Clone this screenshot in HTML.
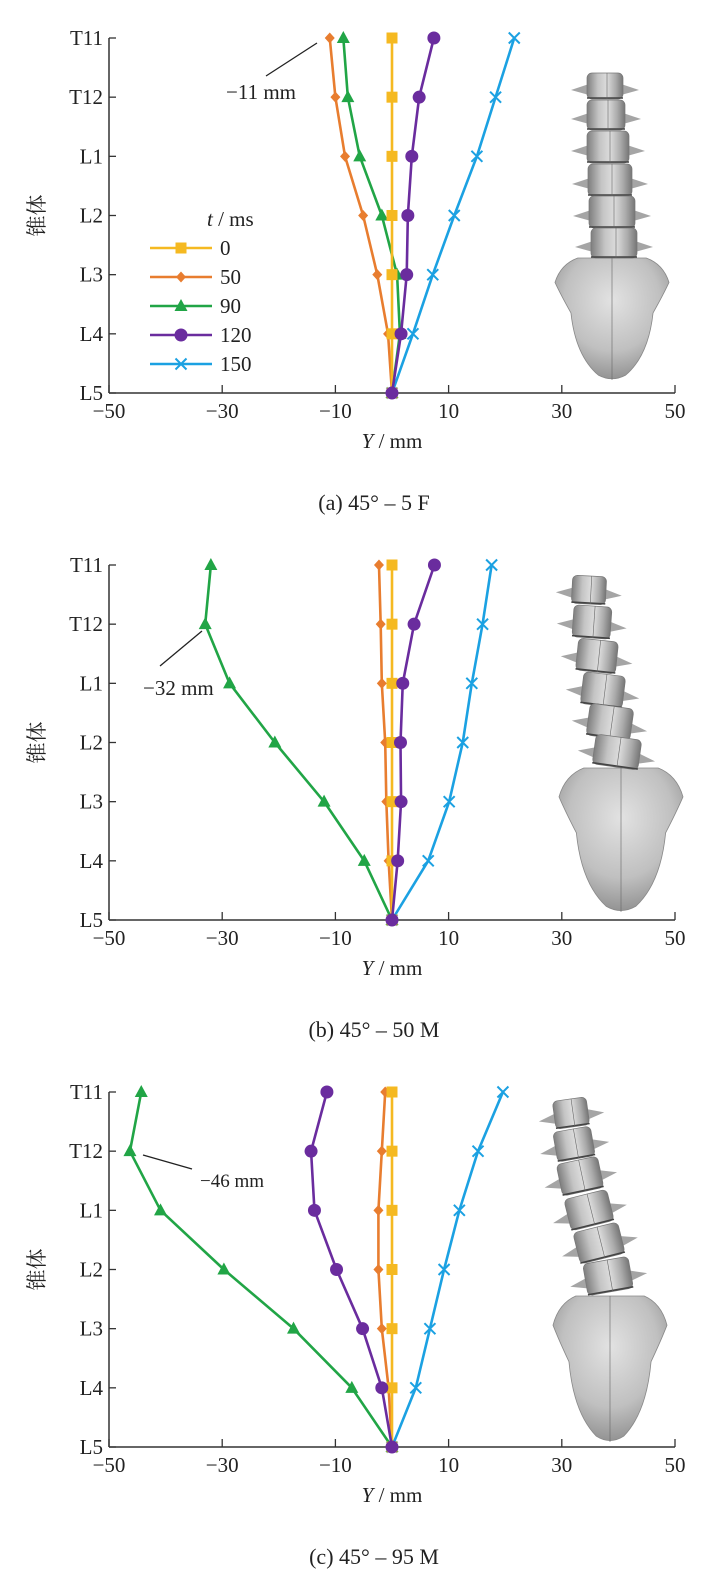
<!DOCTYPE html>
<html><head><meta charset="utf-8"><style>
html,body{margin:0;padding:0;background:#fff;}
svg{display:block;}
text{font-family:"Liberation Serif","Noto Serif CJK SC",serif;fill:#222;}
</style></head><body>
<svg id="s" width="722" height="1580" xmlns="http://www.w3.org/2000/svg">
<defs>
<linearGradient id="bone" x1="0" x2="1" y1="0" y2="0">
<stop offset="0" stop-color="#7e7e7e"/><stop offset="0.3" stop-color="#c4c4c4"/><stop offset="0.55" stop-color="#dcdcdc"/><stop offset="0.8" stop-color="#aaaaaa"/><stop offset="1" stop-color="#767676"/>
</linearGradient>
<radialGradient id="sac" cx="0.5" cy="0.35" r="0.7">
<stop offset="0" stop-color="#e2e2e2"/><stop offset="0.6" stop-color="#c0c0c0"/><stop offset="1" stop-color="#8a8a8a"/>
</radialGradient>
</defs>
</svg>
<script>
const NS="http://www.w3.org/2000/svg";const S=document.getElementById('s');
function el(t,a,txt){const e=document.createElementNS(NS,t);for(const k in a)e.setAttribute(k,a[k]);if(txt!==undefined)e.textContent=txt;S.appendChild(e);return e;}
const X0=392,SC=5.66,AX=109,AXR=675;
const C={y:'#F5B921',o:'#E87D2F',g:'#21A546',p:'#6A2C9E',b:'#1BA1E2'};
const labs=['T11','T12','L1','L2','L3','L4','L5'];
function marker(type,x,y,c){
 if(type==='s')el('rect',{x:x-5.5,y:y-5.5,width:11,height:11,fill:c});
 else if(type==='d')el('polygon',{points:`${x},${y-5.5} ${x+5},${y} ${x},${y+5.5} ${x-5},${y}`,fill:c});
 else if(type==='t')el('polygon',{points:`${x},${y-7} ${x+6.5},${y+5} ${x-6.5},${y+5}`,fill:c});
 else if(type==='c')el('circle',{cx:x,cy:y,r:6.5,fill:c});
 else if(type==='x'){el('path',{d:`M${x-5.5},${y-5.5}L${x+5.5},${y+5.5}M${x+5.5},${y-5.5}L${x-5.5},${y+5.5}`,stroke:c,'stroke-width':2,fill:'none'});}
}
function spine(pts,sac){
 const s=sac;
 el('path',{d:`M${s.x-s.w*0.3},${s.y} L${s.x+s.w*0.3},${s.y} Q${s.x+s.w*0.45},${s.y+s.h*0.05} ${s.x+s.w*0.5},${s.y+s.h*0.2} Q${s.x+s.w*0.45},${s.y+s.h*0.3} ${s.x+s.w*0.36},${s.y+s.h*0.45} Q${s.x+s.w*0.32},${s.y+s.h*0.8} ${s.x+s.w*0.12},${s.y+s.h*0.96} Q${s.x},${s.y+s.h*1.02} ${s.x-s.w*0.12},${s.y+s.h*0.96} Q${s.x-s.w*0.32},${s.y+s.h*0.8} ${s.x-s.w*0.36},${s.y+s.h*0.45} Q${s.x-s.w*0.45},${s.y+s.h*0.3} ${s.x-s.w*0.5},${s.y+s.h*0.2} Q${s.x-s.w*0.45},${s.y+s.h*0.05} ${s.x-s.w*0.3},${s.y} Z`,fill:'url(#sac)',stroke:'#888','stroke-width':0.8});
 el('line',{x1:s.x,y1:s.y,x2:s.x,y2:s.y+s.h,stroke:'#666','stroke-width':0.6});
 for(const [cx,cy,w,h,a] of pts){
  const g=document.createElementNS(NS,'g');g.setAttribute('transform',`translate(${cx},${cy}) rotate(${a})`);S.appendChild(g);
  const add=(t,at)=>{const e=document.createElementNS(NS,t);for(const k in at)e.setAttribute(k,at[k]);g.appendChild(e);};
  add('polygon',{points:`${-w/2-16},${4} ${-w/2+2},${-2} ${-w/2+2},${9}`,fill:'#a5a5a5'});
  add('polygon',{points:`${w/2+16},${4} ${w/2-2},${-2} ${w/2-2},${9}`,fill:'#a5a5a5'});
  add('rect',{x:-w/2,y:-h/2,width:w,height:h,rx:5,fill:'url(#bone)',stroke:'#777','stroke-width':0.7});
  add('line',{x1:-w/2,y1:h/2-1,x2:w/2,y2:h/2-1,stroke:'#444','stroke-width':1.6});
  add('line',{x1:2,y1:-h/2,x2:2,y2:h/2,stroke:'#666','stroke-width':0.6});
 }
}
function panel(oy,data,cap,ann,sp){
 const yT=oy, dy=(355)/6;
 const Y=i=>yT+i*dy; const yB=Y(6);
 el('line',{x1:AX,y1:yT,x2:AX,y2:yB,stroke:'#333','stroke-width':1.5});
 el('line',{x1:AX,y1:yB,x2:AXR,y2:yB,stroke:'#333','stroke-width':1.5});
 labs.forEach((l,i)=>{el('line',{x1:AX,y1:Y(i),x2:AX+7,y2:Y(i),stroke:'#333','stroke-width':1.3});el('text',{x:103,y:Y(i)+7,'font-size':21,'text-anchor':'end'},l);});
 [-50,-30,-10,10,30,50].forEach(v=>{const x=X0+v*SC;el('line',{x1:x,y1:yB,x2:x,y2:yB-8,stroke:'#333','stroke-width':1.3});el('text',{x:x,y:yB+25,'font-size':21,'text-anchor':'middle'},(v<0?'\u2212':'')+Math.abs(v));});
 el('text',{x:44,y:(yT+yB)/2,'font-size':21,'text-anchor':'middle',transform:`rotate(-90 44 ${(yT+yB)/2})`},'锥体');
 const t=el('text',{x:392,y:yB+55,'font-size':21,'text-anchor':'middle'});t.innerHTML='<tspan font-style="italic">Y</tspan> / mm';
 el('text',{x:374,y:yB+117,'font-size':22,'text-anchor':'middle'},cap);
 spine(sp.v,sp.s);
 const order=[['b','x'],['g','t'],['o','d'],['y','s'],['p','c']];
 for(const [k,m] of order){const d=data[k].concat([0]);
  const pts=d.map((v,i)=>`${X0+v*SC},${Y(i)}`).join(' ');
  el('polyline',{points:pts,fill:'none',stroke:C[k],'stroke-width':2.6,'stroke-linejoin':'round'});
  d.forEach((v,i)=>marker(m,X0+v*SC,Y(i),C[k]));}
 el('line',{x1:ann.l[0],y1:ann.l[1],x2:ann.l[2],y2:ann.l[3],stroke:'#222','stroke-width':1.3});
 el('text',{x:ann.t[0],y:ann.t[1],'font-size':ann.fs||21},ann.txt);
}
const zeros=[0,0,0,0,0,0];
panel(38,{y:zeros,o:[-11,-10,-8.3,-5.1,-2.6,-0.7],g:[-8.6,-7.8,-5.7,-1.8,0.9,1.4],p:[7.4,4.8,3.5,2.8,2.6,1.6],b:[21.6,18.3,15,11,7.2,3.7]},
 '(a)  45° – 5 F',{l:[266,76,317,43],t:[226,99],txt:'\u221211 mm'},
 {v:[[605,86,36,26,0],[606,115,38,30,0],[608,147,42,32,0],[610,180,44,32,0],[612,212,46,32,0],[614,243,46,30,0]],s:{x:612,y:258,w:114,h:122}});
panel(565,{y:zeros,o:[-2.3,-2,-1.8,-1.2,-1,-0.6],g:[-32,-33,-28.7,-20.7,-12,-4.9],p:[7.5,3.9,1.9,1.5,1.6,1.0],b:[17.6,16,14.1,12.5,10.1,6.4]},
 '(b)  45° – 50 M',{l:[160,666,202,631],t:[143,695],txt:'\u221232 mm'},
 {v:[[589,590,34,28,3],[592,622,38,32,4],[597,656,40,32,6],[603,690,42,32,7],[610,722,44,32,8],[617,752,46,30,8]],s:{x:621,y:768,w:124,h:144}});
panel(1092,{y:zeros,o:[-1.2,-1.8,-2.4,-2.4,-1.8,-0.6],g:[-44.3,-46.3,-40.9,-29.7,-17.4,-7.1],p:[-11.5,-14.3,-13.7,-9.8,-5.2,-1.8],b:[19.6,15.2,11.9,9.2,6.7,4.2]},
 '(c)  45° – 95 M',{l:[143,1155,192,1169],t:[200,1187],txt:'\u221246 mm',fs:19},
 {v:[[571,1113,34,28,-8],[574,1144,38,30,-10],[580,1176,42,32,-12],[589,1210,44,32,-14],[599,1243,46,32,-14],[608,1276,46,32,-10]],s:{x:610,y:1296,w:114,h:146}});
const lt=el('text',{x:207,y:226,'font-size':21});lt.innerHTML='<tspan font-style="italic">t</tspan> / ms';
[['y','s','0'],['o','d','50'],['g','t','90'],['p','c','120'],['b','x','150']].forEach(([k,m,l],i)=>{const y=248+i*29;
 el('line',{x1:150,y1:y,x2:212,y2:y,stroke:C[k],'stroke-width':2.6});marker(m,181,y,C[k]);el('text',{x:220,y:y+7,'font-size':21},l);});
</script>
</body></html>
